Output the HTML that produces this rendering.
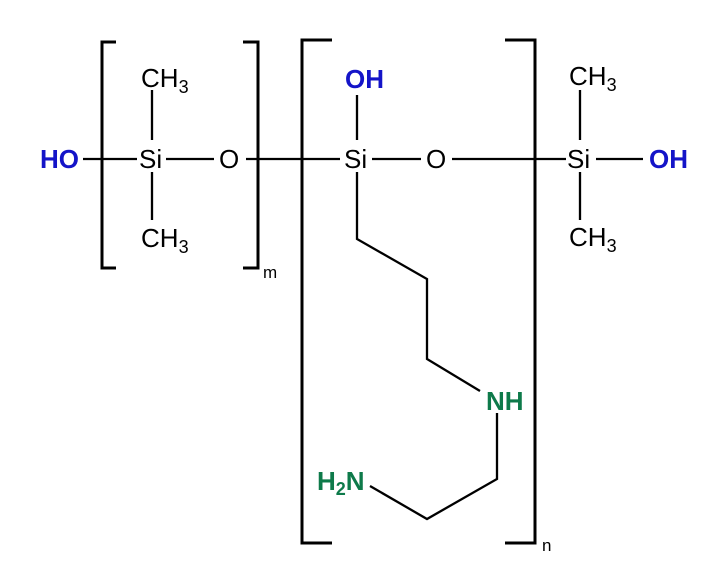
<!DOCTYPE html>
<html><head><meta charset="utf-8"><style>body{margin:0;background:#fff}</style></head><body>
<svg width="721" height="578" xmlns="http://www.w3.org/2000/svg" font-family="Liberation Sans, sans-serif" font-size="26">
<g stroke="#000" stroke-width="3" fill="none">
<path d="M116 42H102V268H116"/>
<path d="M243 42H258V268H243"/>
<path d="M332 40H302V543H332"/>
<path d="M505 40H535V543H505"/>
</g>
<g stroke="#000" stroke-width="2.3" fill="none">
<path d="M83 159H137"/><path d="M166 159H214"/><path d="M246 159H340"/>
<path d="M372 159H421"/><path d="M452 159H566"/><path d="M596 159H643"/>
<path d="M152 90V140M152 172V220"/>
<path d="M357 95V140M357 172V239L427 279V359L480 391"/>
<path d="M497 413V479L427 519L370 486"/>
<path d="M580 90V140M580 172V220"/>
</g>
<g fill="#000">
<text x="139" y="168">Si</text><text x="219" y="168">O</text>
<text x="344" y="168">Si</text><text x="426" y="168">O</text>
<text x="567" y="168">Si</text>
<text x="141" y="87">CH<tspan font-size="18" dy="6">3</tspan></text>
<text x="141" y="247">CH<tspan font-size="18" dy="6">3</tspan></text>
<text x="569" y="85">CH<tspan font-size="18" dy="6">3</tspan></text>
<text x="569" y="246">CH<tspan font-size="18" dy="6">3</tspan></text>
<text x="263" y="278" font-size="17">m</text>
<text x="542" y="551" font-size="17">n</text>
</g>
<g fill="#1414c8" font-weight="bold">
<text x="40" y="168">HO</text>
<text x="345" y="88">OH</text>
<text x="649" y="168">OH</text>
</g>
<g fill="#0e7a4a" font-weight="bold">
<text x="486" y="410">NH</text>
<text x="317" y="490">H<tspan font-size="18" dy="5">2</tspan><tspan dy="-5">N</tspan></text>
</g>
</svg>
</body></html>
